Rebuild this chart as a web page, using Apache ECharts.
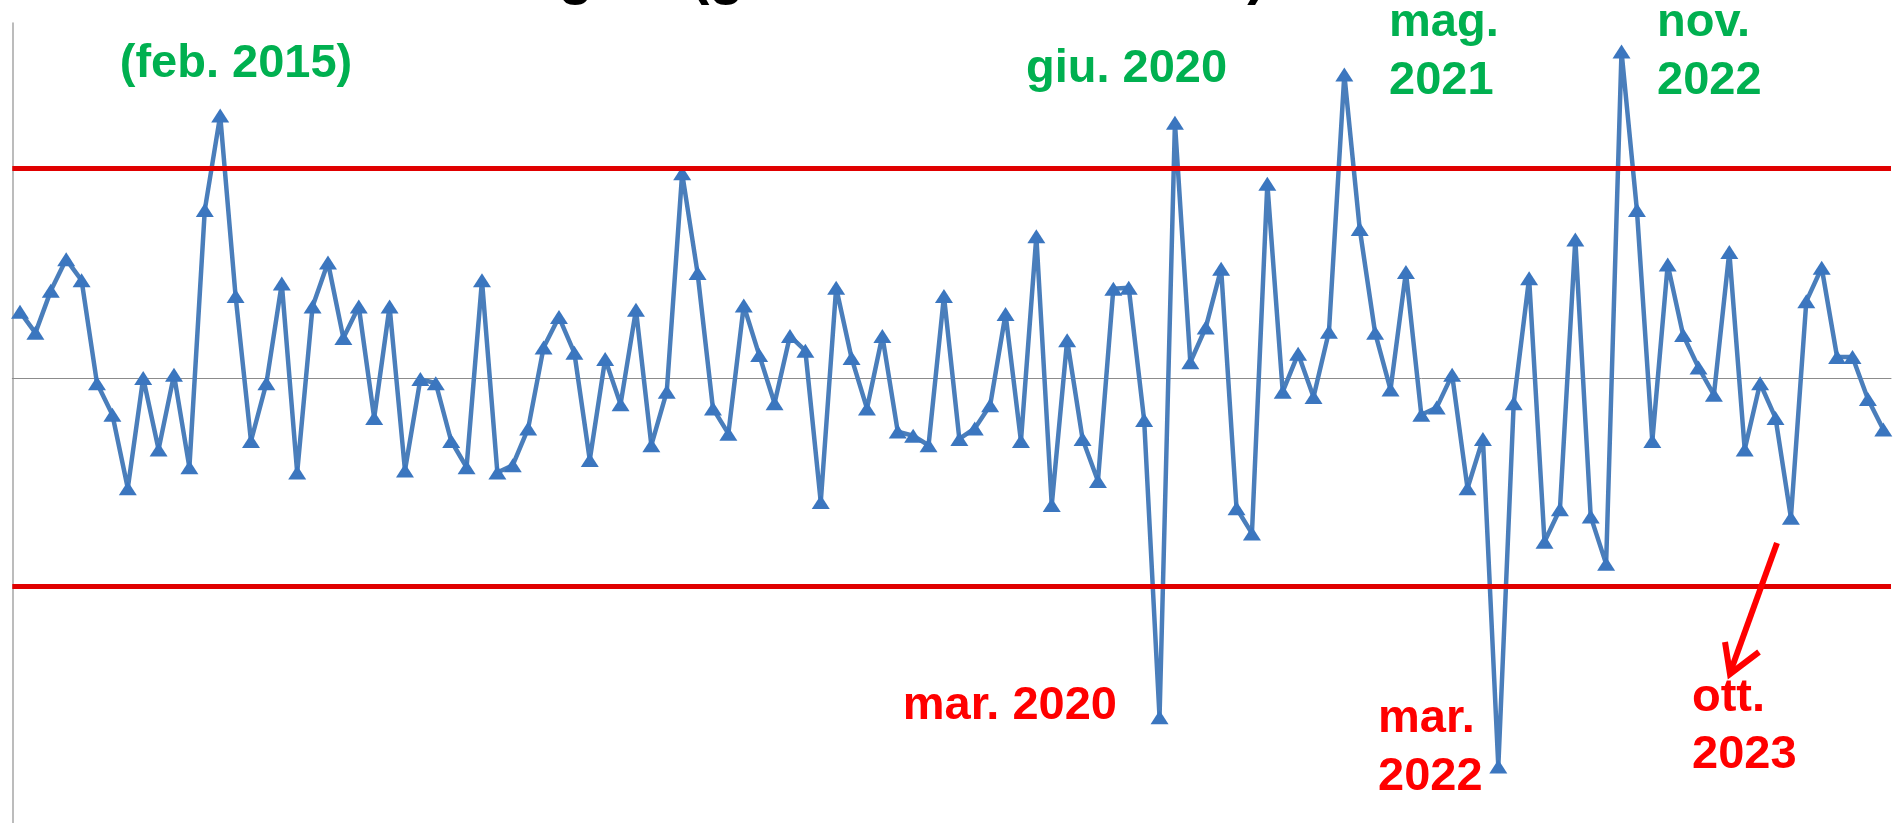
<!DOCTYPE html>
<html>
<head>
<meta charset="utf-8">
<script src="https://cdn.jsdelivr.net/npm/echarts@6/dist/echarts.min.js"></script>
<style>
html,body{margin:0;padding:0;background:#fff;}
#chart{width:1895px;height:823px;}
</style>
</head>
<body>
<div id="chart"></div>
<script>
// ---- data ----
const monthNames = ['gen.', 'feb.', 'mar.', 'apr.', 'mag.', 'giu.', 'lug.', 'ago.', 'set.', 'ott.', 'nov.', 'dic.'];
const skippedMonths = ['apr. 2020', 'mag. 2020'];
const categories = [];
for (let y = 2014; y <= 2024; y++) {
  for (let m = 0; m < 12; m++) {
    const lab = monthNames[m] + ' ' + y;
    if (skippedMonths.indexOf(lab) >= 0) continue;
    categories.push(lab);
    if (lab === 'apr. 2024') break;
  }
}
const values = [
  0.63, 0.43, 0.83, 1.13, 0.93, -0.05, -0.35, -1.05, 0.00, -0.68,
  0.03, -0.85, 1.60, 2.50, 0.78, -0.60, -0.05, 0.90, -0.90, 0.68,
  1.10, 0.38, 0.68, -0.38, 0.68, -0.88, -0.01, -0.05, -0.60, -0.85,
  0.93, -0.90, -0.83, -0.48, 0.29, 0.58, 0.24, -0.78, 0.18, -0.25,
  0.65, -0.64, -0.13, 1.95, 1.00, -0.29, -0.53, 0.69, 0.22, -0.24,
  0.40, 0.26, -1.18, 0.86, 0.19, -0.29, 0.40, -0.51, -0.55, -0.64,
  0.78, -0.58, -0.48, -0.26, 0.61, -0.60, 1.35, -1.21, 0.36, -0.58,
  -0.98, 0.85, 0.86, -0.40, -3.23, 2.43, 0.15, 0.48, 1.04, -1.24,
  -1.48, 1.85, -0.13, 0.23, -0.18, 0.44, 2.89, 1.42, 0.43, -0.11,
  1.01, -0.35, -0.28, 0.03, -1.05, -0.58, -3.70, -0.24, 0.95, -1.56,
  -1.25, 1.32, -1.32, -1.77, 3.11, 1.60, -0.60, 1.08, 0.41, 0.10,
  -0.16, 1.20, -0.68, -0.05, -0.38, -1.33, 0.73, 1.05, 0.20, 0.20,
  -0.20, -0.49
];
const upperLimit = 2.0;
const lowerLimit = -1.98;
const titleText = 'Indagine (gen. 2014 - ott. 2023)';

// ---- chart ----
const chart = echarts.init(document.getElementById('chart'), null, {renderer: 'canvas'});
const FONT = '"Liberation Sans", Arial, sans-serif';
const GREEN = '#00b050';
const RED = '#ff0000';
function txt(text, x, y, color, align) {
  return {
    type: 'text', x: x, y: y, z: 100,
    style: {text: text, fill: color, font: 'bold 47px ' + FONT, align: align || 'left', verticalAlign: 'middle'}
  };
}
const option = {
  backgroundColor: '#ffffff',
  animation: false,
  title: {
    text: titleText, right: 629, top: -51, padding: 0,
    textStyle: {fontFamily: FONT, fontWeight: 'bold', fontSize: 56.6, color: '#000'}
  },
  grid: {left: 12.3, right: 4, top: 23, bottom: 0, containLabel: false},
  xAxis: {
    type: 'category', data: categories, boundaryGap: true,
    axisLine: {show: true, onZero: true, lineStyle: {color: '#8c8c8c', width: 1}},
    axisTick: {show: false}, axisLabel: {show: false}, splitLine: {show: false}
  },
  yAxis: {
    type: 'value', min: -4.238, max: 3.381,
    axisLine: {show: true, lineStyle: {color: '#a6a6a6', width: 1.5}},
    axisTick: {show: false}, axisLabel: {show: false}, splitLine: {show: false}
  },
  series: [
    {
      type: 'line', data: values, z: 2,
      symbol: 'triangle', symbolSize: [18, 14], showAllSymbol: true,
      lineStyle: {color: '#4a7ebb', width: 4.5},
      itemStyle: {color: '#3b76bf', borderWidth: 0}
    },
    {
      type: 'line', data: [], z: 5, silent: true,
      markLine: {
        silent: true, symbol: ['none', 'none'], animation: false,
        label: {show: false},
        lineStyle: {color: '#e00000', width: 5, type: 'solid'},
        data: [{yAxis: upperLimit}, {yAxis: lowerLimit}]
      }
    }
  ],
  graphic: [
    txt('(feb. 2015)', 236, 64, GREEN, 'center'),
    txt('giu. 2020', 1026, 69, GREEN),
    txt('mag.', 1389, 23.5, GREEN),
    txt('2021', 1389, 81.5, GREEN),
    txt('nov.', 1657, 23.5, GREEN),
    txt('2022', 1657, 81.5, GREEN),
    txt('mar. 2020', 1117, 706.5, RED, 'right'),
    txt('mar.', 1378, 719.5, RED),
    txt('2022', 1378, 777.5, RED),
    txt('ott.', 1692, 698, RED),
    txt('2023', 1692, 755, RED),
    {type: 'line', z: 100, shape: {x1: 1777, y1: 543, x2: 1730, y2: 673},
     style: {stroke: RED, lineWidth: 6, lineCap: 'butt'}},
    {type: 'polyline', z: 100, shape: {points: [[1725, 642], [1730, 674], [1759, 652]]},
     style: {stroke: RED, lineWidth: 6, fill: null, lineJoin: 'miter'}}
  ]
};
chart.setOption(option);
</script>
</body>
</html>
